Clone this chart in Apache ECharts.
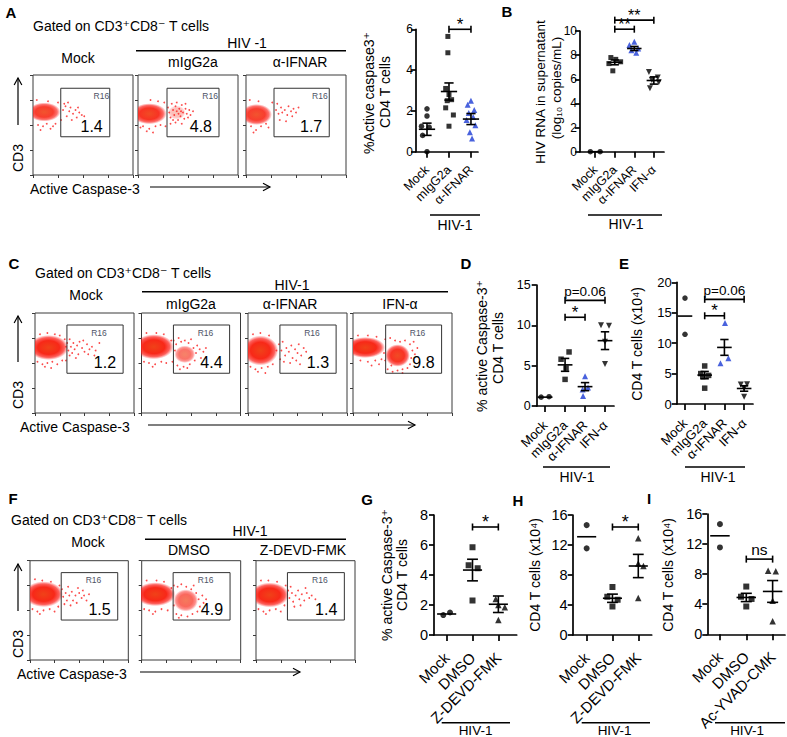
<!DOCTYPE html>
<html>
<head>
<meta charset="utf-8">
<title>Figure</title>
<script src="https://cdn.jsdelivr.net/npm/echarts@6.0.0/dist/echarts.min.js"></script>
<style>
html,body{margin:0;padding:0;background:#fff;}
#chart{width:787px;height:737px;}
</style>
</head>
<body>
<div id="chart"></div>
<script>
// ================= DATA =================
// ---- Panel A (dot plot) ----
const catsA = ['Mock', 'mIgG2a', 'α-IFNAR'];
const ticksA = [0, 2, 4, 6];
const A_mock = [2.1, 1.75, 1.25, 1.2, 0.8, 0.0];
const A_mockJit = [0, 0, -0.25, 0.1, -0.2, 0];
const A_igg = [5.65, 4.85, 3.1, 2.8, 2.55, 2.5, 2.15, 1.8, 1.25];
const A_iggJit = [-0.05, -0.05, -0.15, 0, 0.12, -0.08, -0.15, 0.2, 0];
const A_ifnar = [2.5, 2.3, 2.05, 1.9, 1.7, 1.55, 1.3, 0.95, 0.65];
const A_ifnarJit = [0, -0.15, 0.15, -0.1, 0.1, -0.2, 0.2, -0.05, 0.05];
const A_mean = [1.1, 2.95, 1.6];
const A_sem = [0.3, 0.42, 0.27];
const A_brk = [[1, 2, 6.0]];
const A_brkLbl = ['*'];

// ---- Panel B ----
const catsB = ['Mock', 'mIgG2a', 'α-IFNAR', 'IFN-α'];
const ticksB = [0, 2, 4, 6, 8, 10];
const B_mock = [0, 0];
const B_mockJit = [-0.25, 0.25];
const B_igg = [7.8, 7.65, 7.45, 7.3, 6.7];
const B_iggJit = [-0.2, 0.05, 0.3, -0.3, -0.1];
const B_ifnar = [9.1, 8.85, 8.55, 8.4, 8.2];
const B_ifnarJit = [0, -0.25, 0.2, -0.15, 0.1];
const B_ifna = [6.6, 6.15, 5.95, 5.75, 5.25];
const B_ifnaJit = [-0.25, 0.2, -0.1, 0.25, -0.2];
const B_mean = [0, 7.4, 8.55, 5.9];
const B_sem = [0, 0.2, 0.17, 0.3];
const B_brk = [[1, 2, 10.15], [1, 3, 10.9]];
const B_brkLbl = ['**', '**'];

// ---- Panel D ----
const catsD = ['Mock', 'mIgG2a', 'α-IFNAR', 'IFN-α'];
const ticksD = [0, 5, 10, 15];
const D_mock = [1.1, 1.15];
const D_mockJit = [-0.2, 0.2];
const D_igg = [6.7, 5.8, 4.7, 3.3];
const D_iggJit = [0.2, -0.2, 0.05, 0];
const D_ifnar = [3.7, 2.3, 2.05, 1.25];
const D_ifnarJit = [0, 0.15, -0.12, -0.1];
const D_ifna = [10.0, 9.95, 7.95, 5.2];
const D_ifnaJit = [-0.2, 0.2, 0, 0];
const D_mean = [1.1, 5.1, 2.4, 8.1];
const D_sem = [0, 0.8, 0.5, 1.1];
const D_brk = [[1, 2, 11.0], [1, 3, 13.1]];
const D_brkLbl = ['*', 'p=0.06'];

// ---- Panel E ----
const catsE = ['Mock', 'mIgG2a', 'α-IFNAR', 'IFN-α'];
const ticksE = [0, 5, 10, 15, 20];
const E_mock = [17.4, 11.45];
const E_mockJit = [0, 0];
const E_igg = [6.25, 5.0, 4.7, 4.5, 2.6];
const E_iggJit = [0, -0.2, 0.2, -0.1, 0];
const E_ifnar = [13.3, 7.5, 6.7];
const E_ifnarJit = [0.03, 0.2, -0.2];
const E_ifna = [3.2, 3.25, 2.6, 1.2];
const E_ifnaJit = [-0.17, 0.15, 0, 0];
const E_mean = [14.45, 4.75, 9.3, 2.55];
const E_sem = [0, 0.6, 1.3, 0.45];
const E_brk = [[1, 2, 14.5], [1, 3, 17.2]];
const E_brkLbl = ['*', 'p=0.06'];

// ---- Panel G ----
const catsG = ['Mock', 'DMSO', 'Z-DEVD-FMK'];
const ticksG = [0, 2, 4, 6, 8];
const G_mock = [1.33, 1.5];
const G_mockJit = [-0.13, 0.13];
const G_dmso = [5.85, 4.65, 4.45, 2.3];
const G_dmsoJit = [0, -0.15, 0.2, 0];
const G_zdevd = [2.4, 2.0, 1.85, 1.0];
const G_zdevdJit = [-0.1, 0, 0.25, 0];
const G_mean = [1.4, 4.33, 2.05];
const G_sem = [0, 0.72, 0.55];
const G_brk = [[1, 2, 7.2]];
const G_brkLbl = ['*'];

// ---- Panel H ----
const catsH = ['Mock', 'DMSO', 'Z-DEVD-FMK'];
const ticksH = [0, 4, 8, 12, 16];
const H_mock = [14.65, 11.55];
const H_mockJit = [0, 0];
const H_dmso = [6.4, 5.1, 4.7, 3.8];
const H_dmsoJit = [0, -0.2, 0.2, 0];
const H_zdevd = [12.9, 9.55, 9.2, 4.95];
const H_zdevdJit = [0, 0, 0.2, 0];
const H_mean = [13.1, 4.9, 9.2];
const H_sem = [0, 0.55, 1.55];
const H_brk = [[1, 2, 14.4]];
const H_brkLbl = ['*'];

// ---- Panel I ----
const catsI = ['Mock', 'DMSO', 'Ac-YVAD-CMK'];
const ticksI = [0, 4, 8, 12, 16];
const I_mock = [14.65, 11.55];
const I_mockJit = [0, 0];
const I_dmso = [6.35, 5.0, 4.7, 3.7];
const I_dmsoJit = [0, -0.2, 0.2, 0];
const I_ac = [8.45, 8.4, 4.45, 1.75];
const I_acJit = [-0.17, 0.12, 0, 0];
const I_mean = [13.1, 4.9, 5.7];
const I_sem = [0, 0.55, 1.45];
const I_brk = [[1, 2, 10.0]];
const I_brkLbl = ['ns'];

// ---- Flow plots: gate name, gates [x0,x1,y0,y1], percentages ----
const gateName = 'R16';
const A_gates = [[1.11, 3.07, 1.53, 3.47], [1.16, 3.24, 1.53, 3.47], [1.12, 3.33, 1.53, 3.47]];
const A_pcts = ['1.4', '4.8', '1.7'];
const C_gates = [[1.29, 3.56, 1.59, 3.52], [1.29, 3.56, 1.59, 3.52], [1.29, 3.56, 1.59, 3.52], [1.32, 3.58, 1.59, 3.52]];
const C_pcts = ['1.2', '4.4', '1.3', '9.8'];
const F_gates = [[1.27, 3.57, 1.61, 3.52], [1.27, 3.57, 1.61, 3.52], [1.27, 3.57, 1.61, 3.52]];
const F_pcts = ['1.5', '4.9', '1.4'];

// dense event clusters: [cx, cy, rx, ry, density]
const A1_core = [[0.45, 2.52, 0.65, 0.38, 0.9]];
const A2_core = [[0.45, 2.45, 0.7, 0.42, 0.95], [1.55, 2.5, 0.35, 0.28, 0.3]];
const A3_core = [[0.42, 2.42, 0.62, 0.42, 0.9]];
const C1_core = [[0.55, 2.62, 0.8, 0.5, 1]];
const C2_core = [[0.5, 2.65, 0.8, 0.5, 1], [1.75, 2.35, 0.42, 0.35, 0.65]];
const C3_core = [[0.5, 2.5, 0.72, 0.6, 1]];
const C4_core = [[0.5, 2.62, 0.8, 0.42, 1], [1.8, 2.3, 0.5, 0.45, 0.95]];
const F1_core = [[0.55, 2.65, 0.8, 0.52, 1]];
const F2_core = [[0.55, 2.65, 0.82, 0.48, 1], [1.78, 2.4, 0.5, 0.45, 0.7]];
const F3_core = [[0.55, 2.62, 0.78, 0.5, 1]];

// sparse events
const A1_dots = [[1.2,2.6],[1.3,2.75],[1.45,2.55],[1.5,2.7],[1.6,2.45],[1.7,2.6],[1.75,2.3],[1.85,2.5],[1.95,2.4],[2.05,2.35],[1.35,2.35],[1.55,2.2],[1.25,2.85],[1.4,2.9],[1.8,2.7],[0.2,2.0],[0.4,1.95],[0.55,2.05],[0.7,1.85],[0.3,1.8],[0.9,2.05],[1.0,2.9],[0.6,2.95],[0.15,3.0],[1.12,2.2],[0.8,1.95]];
const A2_dots = [[1.2,2.7],[1.25,2.5],[1.3,2.3],[1.35,2.85],[1.4,2.6],[1.45,2.4],[1.5,2.75],[1.55,2.55],[1.6,2.2],[1.62,2.45],[1.65,2.65],[1.7,2.35],[1.75,2.8],[1.8,2.5],[1.85,2.25],[1.9,2.65],[1.95,2.45],[2.0,2.3],[2.05,2.6],[2.1,2.4],[1.3,2.05],[1.5,2.1],[1.75,2.05],[2.2,2.55],[1.4,2.2],[1.55,2.9],[1.72,2.55],[1.9,2.85],[0.2,1.95],[0.45,1.85],[0.7,1.95],[0.35,1.75],[0.9,2.0],[1.05,2.9],[0.5,3.0],[0.8,2.95],[0.1,1.9],[0.6,1.7],[1.1,1.95]];
const A3_dots = [[1.2,2.6],[1.3,2.45],[1.4,2.7],[1.45,2.5],[1.55,2.6],[1.65,2.4],[1.7,2.75],[1.8,2.55],[1.9,2.65],[2.0,2.5],[2.1,2.7],[1.35,2.2],[1.6,2.15],[1.25,2.85],[1.85,2.35],[0.2,1.95],[0.4,1.8],[0.6,1.95],[0.8,2.05],[0.3,1.7],[1.05,2.9],[0.5,2.95],[0.15,3.0],[0.9,1.9]];
const C1_dots = [[1.3,2.8],[1.35,2.5],[1.4,2.95],[1.45,2.65],[1.5,2.4],[1.55,2.8],[1.6,2.55],[1.7,2.7],[1.75,2.35],[1.8,2.85],[1.9,2.6],[2.0,2.45],[2.1,2.75],[2.2,2.55],[2.3,2.65],[2.45,2.5],[2.6,2.8],[1.65,2.2],[1.95,2.9],[2.15,2.35],[1.4,2.3],[1.25,2.1],[2.4,2.3],[0.1,2.05],[0.3,1.95],[0.5,2.0],[0.7,2.05],[0.9,1.95],[1.1,2.1],[0.2,3.15],[0.5,3.2],[0.8,3.15],[1.0,3.1],[0.4,1.85],[0.65,1.8],[1.2,2.95],[1.25,2.65]];
const C2_dots = [[1.3,2.9],[1.4,2.75],[1.5,3.0],[1.6,2.85],[1.75,2.9],[1.9,2.8],[2.1,2.6],[2.2,2.4],[2.25,2.7],[2.35,2.55],[2.4,2.2],[1.45,1.9],[1.7,1.85],[1.95,1.95],[2.15,2.1],[1.25,2.05],[2.5,2.45],[1.35,2.5],[2.0,2.95],[1.55,1.75],[1.85,1.8],[0.1,2.05],[0.3,2.0],[0.55,1.95],[0.8,2.05],[1.0,2.0],[0.2,3.2],[0.6,3.2],[0.9,3.15],[0.45,1.85],[1.2,2.9],[2.6,2.6]];
const C3_dots = [[1.25,2.75],[1.35,2.5],[1.4,2.85],[1.5,2.3],[1.55,2.6],[1.65,2.45],[1.75,2.7],[1.8,2.2],[1.9,2.55],[2.0,2.4],[2.05,2.75],[2.15,2.3],[2.25,2.6],[2.35,2.45],[1.45,2.05],[1.7,2.0],[1.95,2.1],[2.1,1.95],[1.3,2.15],[0.1,1.85],[0.3,1.75],[0.55,1.8],[0.8,1.85],[1.0,1.95],[0.2,3.15],[0.5,3.2],[0.85,3.1],[0.4,1.65],[0.7,1.6],[1.15,2.5]];
const C4_dots = [[1.3,2.95],[1.5,3.0],[1.7,2.9],[1.9,2.85],[2.1,2.9],[2.3,2.75],[2.4,2.5],[2.35,2.2],[2.3,1.95],[1.4,1.75],[1.6,1.65],[1.8,1.7],[2.0,1.75],[2.2,1.8],[1.25,2.4],[1.3,2.1],[2.5,2.35],[1.55,1.9],[2.6,2.6],[1.15,2.15],[0.9,2.1],[0.6,2.05],[0.3,2.1],[0.2,3.1],[0.6,3.1],[0.95,3.05],[1.05,1.95],[0.75,1.9],[2.0,1.6],[2.45,2.85]];
const F1_dots = [[1.3,2.85],[1.35,2.55],[1.45,2.7],[1.5,2.4],[1.55,2.95],[1.6,2.6],[1.7,2.75],[1.75,2.4],[1.85,2.6],[1.9,2.3],[2.0,2.7],[2.1,2.5],[2.2,2.6],[2.3,2.4],[2.4,2.65],[1.65,2.2],[1.95,2.9],[1.4,2.25],[2.15,2.8],[0.1,2.05],[0.3,1.95],[0.55,2.0],[0.8,2.05],[1.0,1.95],[1.15,2.15],[0.2,3.25],[0.5,3.2],[0.85,3.15],[0.4,1.85],[1.2,3.0]];
const F2_dots = [[1.3,3.0],[1.45,2.95],[1.6,3.05],[1.8,2.95],[2.0,2.85],[2.2,2.7],[2.3,2.45],[2.35,2.15],[2.25,1.95],[1.4,1.85],[1.6,1.8],[1.85,1.75],[2.05,1.85],[1.3,2.2],[2.45,2.6],[2.5,2.3],[1.5,1.7],[2.1,3.0],[0.1,2.05],[0.3,2.0],[0.55,1.95],[0.8,2.05],[1.05,2.0],[0.2,3.2],[0.6,3.2],[0.9,3.15],[0.45,1.85],[1.2,2.9],[2.6,2.45]];
const F3_dots = [[1.3,2.8],[1.35,2.5],[1.45,2.7],[1.5,2.35],[1.6,2.6],[1.7,2.8],[1.75,2.45],[1.85,2.65],[1.95,2.4],[2.05,2.7],[2.15,2.5],[2.25,2.6],[2.4,2.45],[1.55,2.15],[1.8,2.2],[1.4,2.95],[2.0,2.9],[0.1,2.05],[0.3,1.95],[0.55,2.0],[0.8,2.05],[1.0,1.95],[0.2,3.2],[0.5,3.2],[0.85,3.15],[0.4,1.85],[1.15,2.2],[1.2,3.0]];

// ================= RENDERING =================
const FONT = "'Liberation Sans', Arial, 'DejaVu Sans', sans-serif";
const BLUE = '#1c3bd4';
const grid = [], xAxis = [], yAxis = [], series = [], graphic = [];

function st(w) { return { stroke: '#000', lineWidth: w || 1.6 }; }

function meanSemRender(mw, cw) {
  return function (params, api) {
    const i = api.value(0), m = api.value(1), s = api.value(2);
    const a = api.coord([i - mw, m]), b = api.coord([i + mw, m]);
    const ch = [{ type: 'line', shape: { x1: a[0], y1: a[1], x2: b[0], y2: b[1] }, style: st() }];
    if (s > 0) {
      const t1 = api.coord([i - cw, m + s]), t2 = api.coord([i + cw, m + s]);
      const u1 = api.coord([i - cw, m - s]), u2 = api.coord([i + cw, m - s]);
      const cx = api.coord([i, m])[0];
      ch.push({ type: 'line', shape: { x1: cx, y1: t1[1], x2: cx, y2: u1[1] }, style: st() });
      ch.push({ type: 'line', shape: { x1: t1[0], y1: t1[1], x2: t2[0], y2: t2[1] }, style: st() });
      ch.push({ type: 'line', shape: { x1: u1[0], y1: u1[1], x2: u2[0], y2: u2[1] }, style: st() });
    }
    return { type: 'group', children: ch };
  };
}

function bracketRender(labels, fsStar, fsText) {
  return function (params, api) {
    const a = api.coord([api.value(0), api.value(2)]), b = api.coord([api.value(1), api.value(2)]);
    const lbl = labels[params.dataIndex];
    const star = /^\*+$/.test(lbl);
    const txt = star
      ? { text: lbl, x: (a[0] + b[0]) / 2, y: a[1] - 5, align: 'center', verticalAlign: 'middle',
          fontSize: fsStar, lineHeight: 8, fontFamily: FONT, fill: '#000' }
      : { text: lbl, x: (a[0] + b[0]) / 2, y: a[1] - 2, align: 'center', verticalAlign: 'bottom',
          fontSize: fsText, fontFamily: FONT, fill: '#000' };
    return { type: 'group', children: [
      { type: 'line', shape: { x1: a[0], y1: a[1], x2: b[0], y2: b[1] }, style: st(1.6) },
      { type: 'line', shape: { x1: a[0], y1: a[1] - 3.5, x2: a[0], y2: a[1] + 3.5 }, style: st(1.6) },
      { type: 'line', shape: { x1: b[0], y1: b[1] - 3.5, x2: b[0], y2: b[1] + 3.5 }, style: st(1.6) },
      { type: 'text', style: txt }
    ] };
  };
}

function addDotPanel(p) {
  const gi = grid.length;
  grid.push({ left: p.box[0], top: p.box[1], width: p.box[2], height: p.box[3], outerBoundsMode: 'none', containLabel: false });
  const cats = p.cats;
  const idx = cats.map((c, i) => i);
  xAxis.push({ type: 'value', gridIndex: gi, min: p.xr[0], max: p.xr[1], splitLine: { show: false },
    axisLine: { show: true, onZero: false, lineStyle: { color: '#000', width: 1.7 } },
    axisTick: { show: true, customValues: idx, length: 6, lineStyle: { color: '#000', width: 1.7 } },
    axisLabel: { show: true, customValues: idx, rotate: 45, margin: p.lm, formatter: v => cats[Math.round(v)],
      color: '#000', fontSize: p.lf, fontFamily: FONT } });
  const yt = p.yticks;
  yAxis.push({ type: 'value', gridIndex: gi, min: yt[0], max: yt[yt.length - 1], interval: yt[1] - yt[0],
    splitLine: { show: false },
    axisLine: { show: true, onZero: false, lineStyle: { color: '#000', width: 1.7 } },
    axisTick: { show: true, length: 5, lineStyle: { color: '#000', width: 1.7 } },
    axisLabel: { color: '#000', fontSize: p.tf, fontFamily: FONT, margin: p.ym } });
  p.groups.forEach(g => {
    series.push({ type: 'scatter', xAxisIndex: gi, yAxisIndex: gi, silent: true, z: 3, clip: false,
      data: g.vals.map((v, k) => [g.idx + g.jit[k], v]),
      symbol: g.sym, symbolSize: g.size, symbolRotate: g.rot || 0,
      itemStyle: { color: g.color || '#000' } });
  });
  series.push({ type: 'custom', xAxisIndex: gi, yAxisIndex: gi, silent: true, z: 4, clip: false,
    data: p.mean.map((m, i) => [i, m, p.sem[i]]), renderItem: meanSemRender(0.37, 0.21) });
  series.push({ type: 'custom', xAxisIndex: gi, yAxisIndex: gi, silent: true, z: 4, clip: false,
    data: p.brk, renderItem: bracketRender(p.brkLbl, p.sf, p.pf) });
}

function blobRender(params, api) {
  const cx = api.value(0), cy = api.value(1), rx = api.value(2), ry = api.value(3), d = api.value(4);
  const c = api.coord([cx, cy]), e = api.coord([cx + rx, cy + ry]);
  return { type: 'ellipse',
    shape: { cx: c[0], cy: c[1], rx: Math.abs(e[0] - c[0]), ry: Math.abs(e[1] - c[1]) },
    style: { fill: { type: 'radial', x: 0.5, y: 0.5, r: 0.5, colorStops: [
      { offset: 0, color: 'rgba(240,66,24,1)' },
      { offset: 0.55, color: 'rgba(248,40,24,1)' },
      { offset: 0.8, color: 'rgba(252,30,24,0.7)' },
      { offset: 1, color: 'rgba(255,40,40,0)' }] }, opacity: d } };
}

function gateRender(name, pct, rFrac) {
  return function (params, api) {
    const a = api.coord([api.value(0), api.value(3)]), b = api.coord([api.value(1), api.value(2)]);
    return { type: 'group', children: [
      { type: 'rect', shape: { x: a[0], y: a[1], width: b[0] - a[0], height: b[1] - a[1] },
        style: { fill: 'none', stroke: '#333', lineWidth: 1 } },
      { type: 'text', style: { text: name, x: a[0] + (b[0] - a[0]) * rFrac, y: a[1] + 7.5, align: 'center',
        verticalAlign: 'middle', fontSize: 8.5, fontFamily: FONT, fill: '#4d5366' } },
      { type: 'text', style: { text: pct, x: b[0] - 7, y: b[1] - 10.5, align: 'right',
        verticalAlign: 'middle', fontSize: 16, fontFamily: FONT, fill: '#000' } }
    ] };
  };
}

function flowAxis(gi) {
  return { type: 'value', gridIndex: gi, min: 0, max: 4, interval: 1, axisLine: { show: false },
    axisTick: { show: true, length: 3, lineStyle: { color: '#3a3a3a', width: 1 } },
    axisLabel: { show: false }, splitLine: { show: false } };
}

function addFlow(box, core, dots, gate, pct, rFrac) {
  const gi = grid.length;
  grid.push({ left: box[0], top: box[1], width: box[2], height: box[3], show: true, borderColor: '#3a3a3a',
    borderWidth: 1, backgroundColor: 'transparent', outerBoundsMode: 'none', containLabel: false });
  xAxis.push(flowAxis(gi));
  yAxis.push(flowAxis(gi));
  series.push({ type: 'custom', xAxisIndex: gi, yAxisIndex: gi, data: core, renderItem: blobRender, clip: true, silent: true, z: 1 });
  series.push({ type: 'scatter', xAxisIndex: gi, yAxisIndex: gi, data: dots, symbolSize: 1.8,
    itemStyle: { color: '#fa1e1e' }, silent: true, z: 2 });
  series.push({ type: 'custom', xAxisIndex: gi, yAxisIndex: gi, data: [gate], renderItem: gateRender(gateName, pct, rFrac),
    clip: false, silent: true, z: 3 });
}

// ---- Flow panels ----
addFlow([33, 75, 100, 100], A1_core, A1_dots, A_gates[0], A_pcts[0], 0.83);
addFlow([138, 75, 100, 100], A2_core, A2_dots, A_gates[1], A_pcts[1], 0.83);
addFlow([246, 75, 100, 100], A3_core, A3_dots, A_gates[2], A_pcts[2], 0.83);
addFlow([35, 313, 99, 100], C1_core, C1_dots, C_gates[0], C_pcts[0], 0.57);
addFlow([141.5, 313, 99, 100], C2_core, C2_dots, C_gates[1], C_pcts[1], 0.57);
addFlow([248, 313, 99, 100], C3_core, C3_dots, C_gates[2], C_pcts[2], 0.57);
addFlow([353, 313, 99, 100], C4_core, C4_dots, C_gates[3], C_pcts[3], 0.57);
addFlow([30, 560.7, 98.3, 99.3], F1_core, F1_dots, F_gates[0], F_pcts[0], 0.57);
addFlow([141.7, 560.7, 99, 99.3], F2_core, F2_dots, F_gates[1], F_pcts[1], 0.57);
addFlow([256, 560.7, 99, 99.3], F3_core, F3_dots, F_gates[2], F_pcts[2], 0.57);

// ---- Dot panels ----
const SQ = 'rect', CI = 'circle', TR = 'triangle';
addDotPanel({ box: [416, 29.3, 62, 122.4], xr: [-0.5, 2.32], cats: catsA, yticks: ticksA, tf: 12, lf: 12.5, lm: 16, ym: 3, sf: 17, pf: 13,
  groups: [{ idx: 0, vals: A_mock, jit: A_mockJit, sym: CI, size: 5.5 }, { idx: 1, vals: A_igg, jit: A_iggJit, sym: SQ, size: 5 },
           { idx: 2, vals: A_ifnar, jit: A_ifnarJit, sym: TR, size: 6, color: BLUE }],
  mean: A_mean, sem: A_sem, brk: A_brk, brkLbl: A_brkLbl });
addDotPanel({ box: [580, 31, 84, 120.7], xr: [-0.78, 3.52], cats: catsB, yticks: ticksB, tf: 12, lf: 12.5, lm: 16, ym: 3, sf: 16, pf: 13,
  groups: [{ idx: 0, vals: B_mock, jit: B_mockJit, sym: CI, size: 5.5 }, { idx: 1, vals: B_igg, jit: B_iggJit, sym: SQ, size: 5 },
           { idx: 2, vals: B_ifnar, jit: B_ifnarJit, sym: TR, size: 6, color: BLUE },
           { idx: 3, vals: B_ifna, jit: B_ifnaJit, sym: TR, size: 6, rot: 180 }],
  mean: B_mean, sem: B_sem, brk: B_brk, brkLbl: B_brkLbl });
addDotPanel({ box: [536.7, 285, 77.3, 121], xr: [-0.42, 3.45], cats: catsD, yticks: ticksD, tf: 12.5, lf: 13, lm: 17, ym: 6, sf: 17, pf: 13.5,
  groups: [{ idx: 0, vals: D_mock, jit: D_mockJit, sym: CI, size: 5.5 }, { idx: 1, vals: D_igg, jit: D_iggJit, sym: SQ, size: 5.5 },
           { idx: 2, vals: D_ifnar, jit: D_ifnarJit, sym: TR, size: 6, color: BLUE },
           { idx: 3, vals: D_ifna, jit: D_ifnaJit, sym: TR, size: 6, rot: 180 }],
  mean: D_mean, sem: D_sem, brk: D_brk, brkLbl: D_brkLbl });
addDotPanel({ box: [676.7, 282.3, 76.3, 121.7], xr: [-0.42, 3.45], cats: catsE, yticks: ticksE, tf: 13, lf: 13, lm: 17, ym: 5, sf: 17, pf: 13.5,
  groups: [{ idx: 0, vals: E_mock, jit: E_mockJit, sym: CI, size: 5.5 }, { idx: 1, vals: E_igg, jit: E_iggJit, sym: SQ, size: 5.5 },
           { idx: 2, vals: E_ifnar, jit: E_ifnarJit, sym: TR, size: 6, color: BLUE },
           { idx: 3, vals: E_ifna, jit: E_ifnaJit, sym: TR, size: 6, rot: 180 }],
  mean: E_mean, sem: E_sem, brk: E_brk, brkLbl: E_brkLbl });
addDotPanel({ box: [434, 515, 82.7, 120], xr: [-0.49, 2.71], cats: catsG, yticks: ticksG, tf: 14.5, lf: 15, lm: 20, ym: 6, sf: 18, pf: 15,
  groups: [{ idx: 0, vals: G_mock, jit: G_mockJit, sym: CI, size: 6 }, { idx: 1, vals: G_dmso, jit: G_dmsoJit, sym: SQ, size: 6 },
           { idx: 2, vals: G_zdevd, jit: G_zdevdJit, sym: TR, size: 6.5 }],
  mean: G_mean, sem: G_sem, brk: G_brk, brkLbl: G_brkLbl });
addDotPanel({ box: [572.7, 515, 79, 120], xr: [-0.54, 2.52], cats: catsH, yticks: ticksH, tf: 14.5, lf: 15, lm: 20, ym: 5, sf: 18, pf: 15,
  groups: [{ idx: 0, vals: H_mock, jit: H_mockJit, sym: CI, size: 6 }, { idx: 1, vals: H_dmso, jit: H_dmsoJit, sym: SQ, size: 6 },
           { idx: 2, vals: H_zdevd, jit: H_zdevdJit, sym: TR, size: 6.5 }],
  mean: H_mean, sem: H_sem, brk: H_brk, brkLbl: H_brkLbl });
addDotPanel({ box: [707.3, 514, 77.7, 120.3], xr: [-0.48, 2.47], cats: catsI, yticks: ticksI, tf: 14.5, lf: 15, lm: 20, ym: 5, sf: 18, pf: 15.5,
  groups: [{ idx: 0, vals: I_mock, jit: I_mockJit, sym: CI, size: 6 }, { idx: 1, vals: I_dmso, jit: I_dmsoJit, sym: SQ, size: 6 },
           { idx: 2, vals: I_ac, jit: I_acJit, sym: TR, size: 6.5 }],
  mean: I_mean, sem: I_sem, brk: I_brk, brkLbl: I_brkLbl });

// ---- Annotations (text and decorative lines) ----
function T(s, x, y, fs, o) {
  o = o || {};
  const style = { text: s, align: o.align || 'center', verticalAlign: 'middle', fontSize: fs,
      fontWeight: o.bold ? 'bold' : 'normal', fontFamily: FONT, fill: '#000' };
  if (o.lh) style.lineHeight = o.lh;
  return { type: 'text', x: x, y: y, rotation: o.rot || 0, silent: true, z: 100, style: style };
}
function L(x1, y1, x2, y2, w) {
  return { type: 'line', silent: true, z: 100, shape: { x1: x1, y1: y1, x2: x2, y2: y2 }, style: { stroke: '#000', lineWidth: w || 1.5 } };
}
function ARW(x1, y1, x2, y2) {
  const ang = Math.atan2(y2 - y1, x2 - x1), h = 8, s = 0.5;
  const p1 = [x2 - h * Math.cos(ang - s), y2 - h * Math.sin(ang - s)];
  const p2 = [x2 - h * Math.cos(ang + s), y2 - h * Math.sin(ang + s)];
  return [L(x1, y1, x2, y2, 1.2),
    { type: 'polyline', silent: true, z: 100, shape: { points: [p1, [x2, y2], p2] }, style: { stroke: '#000', lineWidth: 1.2, fill: null } }];
}
const UP = Math.PI / 2;

graphic.push(
  // panel letters
  T('A', 11, 12, 15, { bold: true }), T('B', 507, 11, 15, { bold: true }), T('C', 14, 263, 15, { bold: true }),
  T('D', 466, 263, 15, { bold: true }), T('E', 624, 263, 15, { bold: true }), T('F', 13, 498, 15, { bold: true }),
  T('G', 367, 499, 15, { bold: true }), T('H', 518, 500, 15, { bold: true }), T('I', 649, 498, 15, { bold: true }),

  // Panel A flow header / axes
  T('Gated on CD3⁺CD8⁻ T cells', 33, 26, 14, { align: 'left' }),
  T('HIV -1', 247, 43, 14), L(136, 50.7, 346, 50.7, 1.6),
  T('Mock', 78, 57.5, 14), T('mIgG2a', 193, 62, 14), T('α-IFNAR', 300, 62, 14),
  T('CD3', 18, 158, 14, { rot: UP }), ...ARW(18, 125, 18, 78),
  T('Active Caspase-3', 30, 188.5, 14, { align: 'left' }), ...ARW(150, 187, 270, 187),

  // Panel A dot plot titles
  T('%Active caspase3⁺', 369, 93, 14, { rot: UP }), T('CD4 T cells', 384.5, 92, 14, { rot: UP }),
  L(430, 215, 480, 215, 1.6), T('HIV-1', 455, 225, 14),

  // Panel B
  T('HIV RNA in supernatant', 540, 92, 13.5, { rot: UP }), T('(log₁₀ copies/mL)', 556, 88, 13.5, { rot: UP }),
  L(588, 215, 662, 215, 1.6), T('HIV-1', 626, 224, 14),

  // Panel C flow
  T('Gated on CD3⁺CD8⁻ T cells', 35, 272.7, 14, { align: 'left' }),
  T('HIV-1', 292, 285, 14), L(142, 291.7, 448, 291.7, 1.6),
  T('Mock', 86, 295, 14), T('mIgG2a', 191, 304, 14), T('α-IFNAR', 290, 304, 14), T('IFN-α', 400, 304, 14),
  T('CD3', 18, 395, 14, { rot: UP }), ...ARW(18, 362, 18, 316),
  T('Active Caspase-3', 20, 426.5, 14, { align: 'left' }), ...ARW(148, 425, 415, 425),

  // Panel D
  T('% active Caspase-3⁺', 482, 346, 14, { rot: UP }), T('CD4 T cells', 498, 348, 14, { rot: UP }),
  L(543, 467, 610, 467, 1.6), T('HIV-1', 577, 477, 14),

  // Panel E
  T('CD4 T cells (x10⁴)', 637, 344, 14, { rot: UP }),
  L(685, 467, 745, 467, 1.6), T('HIV-1', 718, 477, 14),

  // Panel F flow
  T('Gated on CD3⁺CD8⁻ T cells', 11, 520, 14, { align: 'left' }),
  T('HIV-1', 250, 530.7, 14), L(145, 539.3, 346, 539.3, 1.6),
  T('Mock', 88, 541.7, 14), T('DMSO', 189, 550, 14), T('Z-DEVD-FMK', 303, 550, 14),
  T('CD3', 18, 644, 14, { rot: UP }), ...ARW(18, 611, 18, 564),
  T('Active Caspase-3', 17, 673.5, 14, { align: 'left' }), ...ARW(140, 672, 300, 672),

  // Panel G
  T('% active Caspase-3⁺', 386.5, 575, 14, { rot: UP }), T('CD4 T cells', 402, 575, 14, { rot: UP }),
  L(441.7, 722.7, 510, 722.7, 1.6), T('HIV-1', 475.5, 730, 13.5, { lh: 13 }),

  // Panel H
  T('CD4 T cells (x10⁴)', 535, 575, 14, { rot: UP }),
  L(581.7, 722.7, 650, 722.7, 1.6), T('HIV-1', 614.5, 730, 13.5, { lh: 13 }),

  // Panel I
  T('CD4 T cells (x10⁴)', 668, 575, 14, { rot: UP }),
  L(715, 722.7, 785, 722.7, 1.6), T('HIV-1', 747, 730, 13.5, { lh: 13 })
);

const chart = echarts.init(document.getElementById('chart'), null, { renderer: 'svg', width: 787, height: 737 });
chart.setOption({
  backgroundColor: '#fff',
  animation: false,
  textStyle: { fontFamily: FONT },
  grid: grid, xAxis: xAxis, yAxis: yAxis, series: series, graphic: graphic
});
</script>
</body>
</html>
